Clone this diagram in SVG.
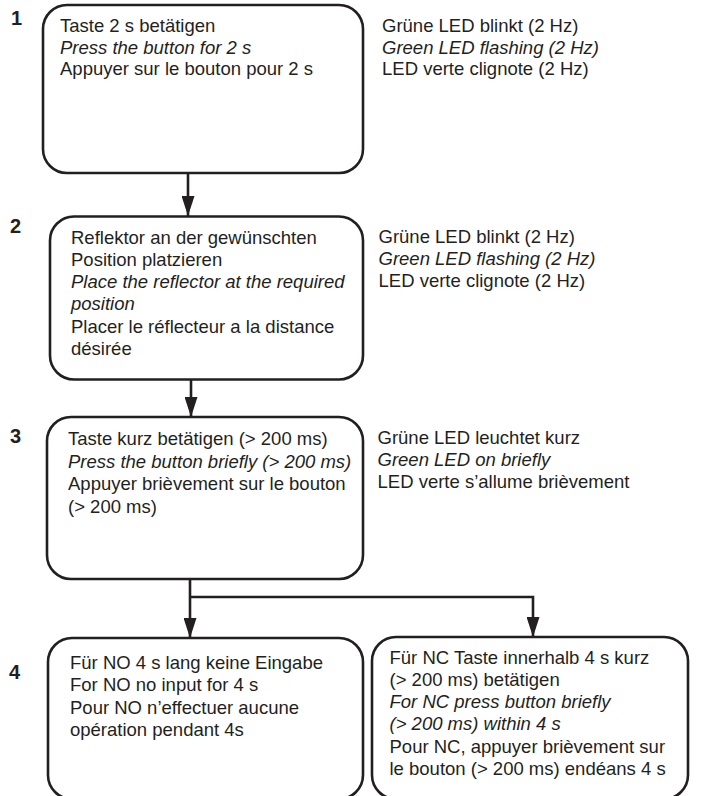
<svg xmlns="http://www.w3.org/2000/svg" width="703" height="796" viewBox="0 0 703 796">
<defs>
<marker id="ah" markerUnits="userSpaceOnUse" markerWidth="20" markerHeight="13" refX="20" refY="6.5" orient="auto" viewBox="0 0 20 13">
<path d="M0,0 L20,6.5 L0,13 Z" fill="#231f20"/>
</marker>
<style>
.box{fill:#fff;stroke:#231f20;stroke-width:2.6}
.t{font-family:"Liberation Sans",Arial,sans-serif;font-size:18.5px;fill:#231f20}
.i{font-style:italic}
.n{font-family:"Liberation Sans",Arial,sans-serif;font-size:20px;font-weight:bold;fill:#231f20}
.c{fill:none;stroke:#231f20;stroke-width:2.6}
</style>
</defs>
<rect width="703" height="796" fill="#fff"/>
<g id="connectors">
<path class="c" d="M188,173 V216" marker-end="url(#ah)"/>
<path class="c" d="M191,379 V417" marker-end="url(#ah)"/>
<path class="c" d="M190,579 V638" marker-end="url(#ah)"/>
<path class="c" d="M190,597 H533 V637" marker-end="url(#ah)"/>
</g>
<g id="step1">
<text class="n" x="11" y="25">1</text>
<rect class="box" x="43" y="5" width="320" height="168" rx="24"/>
<text class="t" x="60" y="32">Taste 2 s betätigen</text>
<text class="t i" x="60" y="53.5">Press the button for 2 s</text>
<text class="t" x="60" y="75">Appuyer sur le bouton pour 2 s</text>
</g>
<g id="led1">
<text class="t" x="382" y="32">Grüne LED blinkt (2 Hz)</text>
<text class="t i" x="382" y="53.5">Green LED flashing (2 Hz)</text>
<text class="t" x="382" y="75">LED verte clignote (2 Hz)</text>
</g>
<g id="step2">
<text class="n" x="10" y="233">2</text>
<rect class="box" x="50" y="216.5" width="313" height="163" rx="24"/>
<text class="t" x="71" y="243.5">Reflektor an der gewünschten</text>
<text class="t" x="71" y="265.5">Position platzieren</text>
<text class="t i" x="71" y="288">Place the reflector at the required</text>
<text class="t i" x="71" y="310">position</text>
<text class="t" x="71" y="332.5">Placer le réflecteur a la distance</text>
<text class="t" x="71" y="355">désirée</text>
</g>
<g id="led2">
<text class="t" x="378.5" y="242.5">Grüne LED blinkt (2 Hz)</text>
<text class="t i" x="378.5" y="264.5">Green LED flashing (2 Hz)</text>
<text class="t" x="378.5" y="286.5">LED verte clignote (2 Hz)</text>
</g>
<g id="step3">
<text class="n" x="10" y="443">3</text>
<rect class="box" x="47" y="417" width="316" height="162" rx="24"/>
<text class="t" x="68" y="445">Taste kurz betätigen (&gt; 200 ms)</text>
<text class="t i" x="68" y="467.5">Press the button briefly (&gt; 200 ms)</text>
<text class="t" x="68" y="490">Appuyer brièvement sur le bouton</text>
<text class="t" x="68" y="512.5">(&gt; 200 ms)</text>
</g>
<g id="led3">
<text class="t" x="377.5" y="443.5">Grüne LED leuchtet kurz</text>
<text class="t i" x="377.5" y="465.5">Green LED on briefly</text>
<text class="t" x="377.5" y="487.5">LED verte s’allume brièvement</text>
</g>
<g id="step4">
<text class="n" x="9" y="679">4</text>
</g>
<g id="step4-no">
<rect class="box" x="48" y="638" width="315" height="161" rx="24"/>
<text class="t" x="70" y="668.5">Für NO 4 s lang keine Eingabe</text>
<text class="t" x="70" y="691">For NO no input for 4 s</text>
<text class="t" x="70" y="713.5">Pour NO n’effectuer aucune</text>
<text class="t" x="70" y="735.5">opération pendant 4s</text>
</g>
<g id="step4-nc">
<rect class="box" x="372" y="637" width="316" height="162" rx="24"/>
<text class="t" x="389.5" y="663.5">Für NC Taste innerhalb 4 s kurz</text>
<text class="t" x="389.5" y="685.5">(&gt; 200 ms) betätigen</text>
<text class="t i" x="389.5" y="707.5">For NC press button briefly</text>
<text class="t i" x="389.5" y="729.5">(&gt; 200 ms) within 4 s</text>
<text class="t" x="389.5" y="752.5">Pour NC, appuyer brièvement sur</text>
<text class="t" x="389.5" y="774.5">le bouton (&gt; 200 ms) endéans 4 s</text>
</g>
</svg>
